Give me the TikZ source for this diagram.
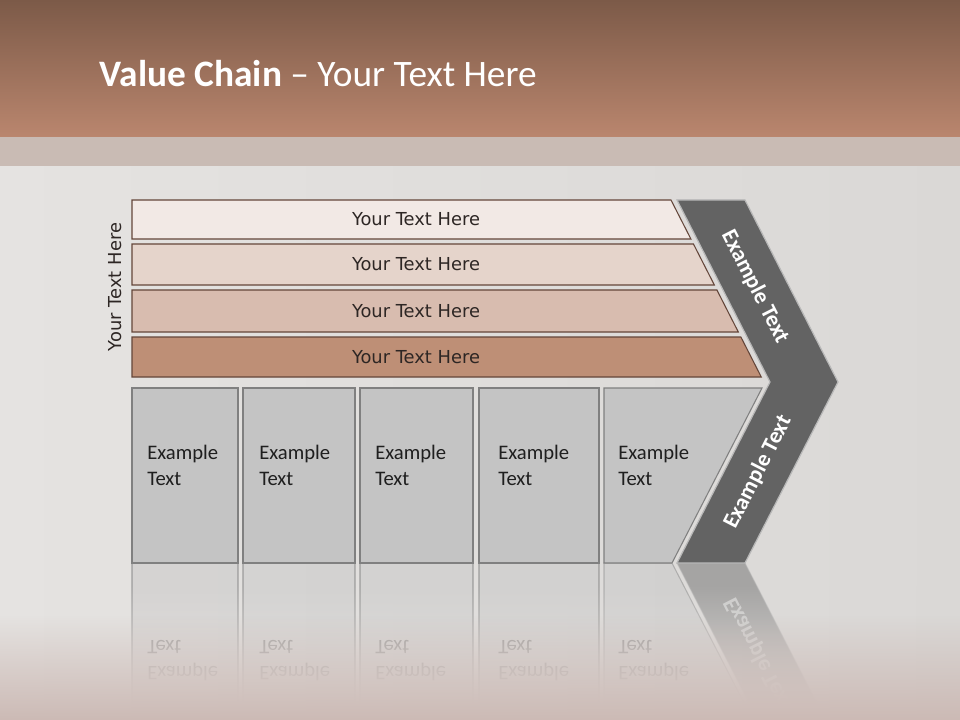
\documentclass[tikz,border=0pt]{standalone}
\usepackage{fontspec}
\setmainfont{Carlito}
\newfontfamily\bandfont{DejaVu Sans}
\usetikzlibrary{positioning,fadings}

\definecolor{hdtop}{RGB}{124,90,72}
\definecolor{hdbot}{RGB}{186,134,110}
\definecolor{stripcol}{RGB}{201,187,180}
\definecolor{bgleft}{RGB}{229,227,225}
\definecolor{bgright}{RGB}{218,216,214}
\definecolor{bgpink}{RGB}{204,186,181}
\definecolor{bandA}{RGB}{242,233,229}
\definecolor{bandB}{RGB}{229,212,203}
\definecolor{bandC}{RGB}{216,188,175}
\definecolor{bandD}{RGB}{190,143,118}
\definecolor{bandline}{RGB}{100,70,58}
\definecolor{textdark}{RGB}{45,38,36}
\definecolor{boxfill}{RGB}{196,196,196}
\definecolor{boxline}{RGB}{128,128,128}
\definecolor{chevfill}{RGB}{99,99,99}

% lower row: five blocks and the chevron, #1 is a name prefix
\newcommand{\lowerrow}[1]{%
  \draw[block] (132,388) rectangle (238,563);
  \draw[block] (243,388) rectangle (355,563);
  \draw[block] (360,388) rectangle (473,563);
  \draw[block] (479,388) rectangle (599,563);
  \draw[block] (604,388) -- (762,388) -- (672,563) -- (604,563) -- cycle;
  \node[blocktext] (#1ex1) at (147,465) {Example\\Text};
  \node[blocktext] (#1ex2) at (259,465) {Example\\Text};
  \node[blocktext] (#1ex3) at (375,465) {Example\\Text};
  \node[blocktext] (#1ex4) at (498,465) {Example\\Text};
  \node[blocktext] (#1ex5) at (618,465) {Example\\Text};
  \draw[chevron] (677,200) -- (745,200) -- (838,382) -- (745,563)
    -- (677,563) -- (770,382) -- cycle;
  \node[chevtext, rotate=63] (#1chevdown) at (758,472) {Example Text};
}

\begin{document}
\begin{tikzpicture}[
  x=0.75pt, y=-0.75pt,
  band/.style={draw=bandline, line width=0.8pt},
  bandtext/.style={font=\bandfont\fontsize{13.4}{16}\selectfont, text=textdark},
  block/.style={draw=boxline, fill=boxfill, line width=0.8pt},
  blocktext/.style={anchor=west, inner sep=0pt, align=left, text=black!88,
    font=\fontsize{15.5}{19.5}\selectfont},
  chevron/.style={fill=chevfill, draw=white!72!black, line width=0.9pt},
  chevtext/.style={text=white, inner sep=1pt, font=\bfseries\fontsize{17}{20}\selectfont}
]
\useasboundingbox (0,0) rectangle (960,720);

% background
\shade[left color=bgleft, right color=bgright] (0,166) rectangle (960,720);

% reflection, faded out below
\begin{scope}[shift={(0,1126)}, yscale=-1, transform shape, opacity=0.45]
  \lowerrow{r}
\end{scope}
\shade[left color=bgleft, right color=bgright, path fading=north] (0,585) rectangle (960,705);
\shade[left color=bgleft, right color=bgright] (0,704) rectangle (960,720);
\fill[bgpink, path fading=north] (0,615) rectangle (960,720);

% title
\shade[top color=hdtop, bottom color=hdbot] (0,0) rectangle (960,137);
\fill[stripcol] (0,137) rectangle (960,166);
\node[anchor=west, text=white, font=\fontsize{28}{32}\selectfont] (title) at (95,74)
  {\textbf{Value Chain} -- Your Text Here};

% four bands
\foreach \i/\t/\b/\c in {1/200/239/bandA, 2/244/285/bandB, 3/290/332/bandC, 4/337/377/bandD}
{
  \draw[band, fill=\c] (132,\t) -- ({671+0.51*(\t-200)},\t)
    -- ({671+0.51*(\b-200)},\b) -- (132,\b) -- cycle;
  \node[bandtext] (band\i) at (416,{(\t+\b)/2}) {Your Text Here};
}
\node[bandtext, rotate=90] (side) at (115,287) {Your Text Here};

\lowerrow{}
\node[chevtext, rotate=-63] (chevup) at (755,287) {Example Text};
\end{tikzpicture}
\end{document}
